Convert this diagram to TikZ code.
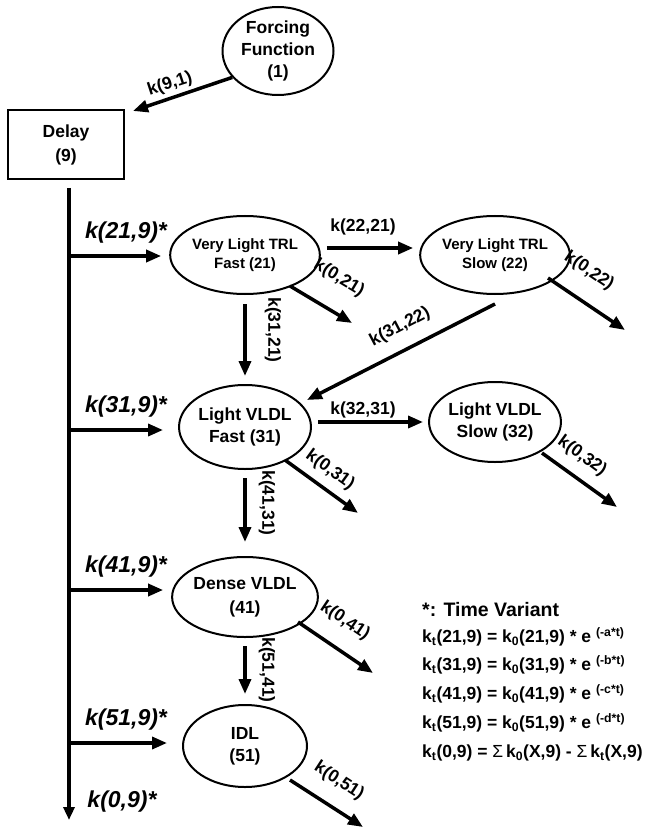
\documentclass[tikz,border=0pt]{standalone}
\usepackage{fontspec}
\setmainfont{Liberation Sans}
\usetikzlibrary{arrows.meta,shapes.geometric}
\begin{document}
\begin{tikzpicture}[x=1pt,y=-1pt,
  every node/.style={font=\bfseries\fontsize{17.5}{22}\selectfont, inner sep=0pt},
  comp/.style={draw, ellipse, line width=2pt, minimum width=124pt, minimum height=80pt, align=center},
  smallcomp/.style={comp, minimum height=78pt, font=\bfseries\fontsize{15}{19}\selectfont},
  arr/.style={line width=3.5pt, -{Triangle[length=15pt,width=12pt]}},
  inlab/.style={font=\bfseries\itshape\fontsize{23}{27}\selectfont},
  eq/.style={anchor=west, font=\bfseries\fontsize{17.5}{21}\selectfont}
]
\useasboundingbox (0,0) rectangle (650,834);

% compartments
\node[comp, minimum width=111pt, minimum height=88pt] (ff) at (278,51) {Forcing\\Function\\(1)};
\node[draw, line width=2pt, minimum width=116pt, minimum height=69pt, align=center] (delay) at (66,144.5) {Delay\\[2pt](9)};
\node[smallcomp] (n21) at (245,255) {Very Light TRL\\Fast (21)};
\node[smallcomp] (n22) at (495,255) {Very Light TRL\\Slow (22)};
\node[comp, minimum height=84pt] (n31) at (245,427) {Light VLDL\\Fast (31)};
\node[comp] (n32) at (495,422) {Light VLDL\\Slow (32)};
\node[comp] (n41) at (245,597) {Dense VLDL\\[2pt](41)};
\node[comp, minimum height=82pt] (n51) at (245,746) {IDL\\(51)};

% free ends
\coordinate (end9) at (69,820);
\coordinate (b21) at (69,256);
\coordinate (b31) at (69,430);
\coordinate (b41) at (69,590);
\coordinate (b51) at (69,743);
\coordinate (o21) at (352,323);
\coordinate (o22) at (625,330);
\coordinate (o31) at (358,513);
\coordinate (o32) at (617,507);
\coordinate (o41) at (373,673);
\coordinate (o51) at (363,827);

% connectors
\draw[arr] (ff.210) -- ([shift={(8,2)}]delay.north east);
\draw[arr, -{Triangle[length=13pt,width=11pt]}] ([shift={(3,8)}]delay.south) -- (end9);
\draw[arr] (b21) -- ([shift={(-8,0)}]b21 -| n21.west);
\draw[arr] (b31) -- ([shift={(-15,0)}]b31 -| n31.west);
\draw[arr] (b41) -- ([shift={(-8,0)}]b41 -| n41.west);
\draw[arr] (b51) -- ([shift={(-15,0)}]b51 -| n51.west);

\draw[arr] ([shift={(6,-7)}]n21.east) -- ([shift={(-6,-7)}]n22.west);
\draw[arr] ([shift={(0,9)}]n21.south) -- ([shift={(0,-8)}]n31.north);
\draw[arr] ([shift={(0,9)}]n22.south) -- ([shift={(62,-27)}]n31.center);
\draw[arr] ([shift={(6,-5)}]n31.east) -- ([shift={(-5,0)}]n32.west);
\draw[arr] ([shift={(0,8)}]n31.south) -- ([shift={(0,-14)}]n41.north);
\draw[arr] ([shift={(0,8)}]n41.south) -- ([shift={(0,-10)}]n51.north);

\draw[arr] ([shift={(45,31)}]n21.center) -- (o21);
\draw[arr] ([shift={(53,23)}]n22.center) -- (o22);
\draw[arr] ([shift={(40,33)}]n31.center) -- (o31);
\draw[arr] ([shift={(47,31)}]n32.center) -- (o32);
\draw[arr] ([shift={(53,25)}]n41.center) -- (o41);
\draw[arr] ([shift={(45,34)}]n51.center) -- (o51);

% rate labels
\node[rotate=18] (l91) at (170,84) {k(9,1)};
\node (l2221) at (363,227) {k(22,21)};
\node[rotate=-31] (l021) at (339,278) {k(0,21)};
\node[rotate=-34] (l022) at (589,271) {k(0,22)};
\node[rotate=-90] (l3121) at (273,330) {k(31,21)};
\node[rotate=27.5] (l3122) at (400,327) {k(31,22)};
\node (l3231) at (363,410) {k(32,31)};
\node[rotate=-36] (l031) at (330,470) {k(0,31)};
\node[rotate=-36] (l032) at (582,456) {k(0,32)};
\node[rotate=-90] (l4131) at (267,503) {k(41,31)};
\node[rotate=-34] (l041) at (345,621) {k(0,41)};
\node[rotate=-90] (l5141) at (267,670) {k(51,41)};
\node[rotate=-33] (l051) at (339,781) {k(0,51)};

\node[inlab] (l219) at (126,233) {k(21,9)*};
\node[inlab] (l319) at (126,407) {k(31,9)*};
\node[inlab] (l419) at (126,567) {k(41,9)*};
\node[inlab] (l519) at (126,720) {k(51,9)*};
\node[inlab] (l09) at (122,802) {k(0,9)*};

% legend
\node[eq, font=\bfseries\fontsize{19.5}{23}\selectfont] (tv) at (422,610) {*: Time Variant};
\node[eq] (e1) at (422,637) {k\textsubscript{t}(21,9) = k\textsubscript{0}(21,9) * e \textsuperscript{(-a*t)}};
\node[eq] (e2) at (422,665) {k\textsubscript{t}(31,9) = k\textsubscript{0}(31,9) * e \textsuperscript{(-b*t)}};
\node[eq] (e3) at (422,694) {k\textsubscript{t}(41,9) = k\textsubscript{0}(41,9) * e \textsuperscript{(-c*t)}};
\node[eq] (e4) at (422,723) {k\textsubscript{t}(51,9) = k\textsubscript{0}(51,9) * e \textsuperscript{(-d*t)}};
\node[eq] (e5) at (422,753) {k\textsubscript{t}(0,9) = {\mdseries Σ}\,k\textsubscript{0}(X,9) - {\mdseries Σ}\,k\textsubscript{t}(X,9)};
\end{tikzpicture}
\end{document}
